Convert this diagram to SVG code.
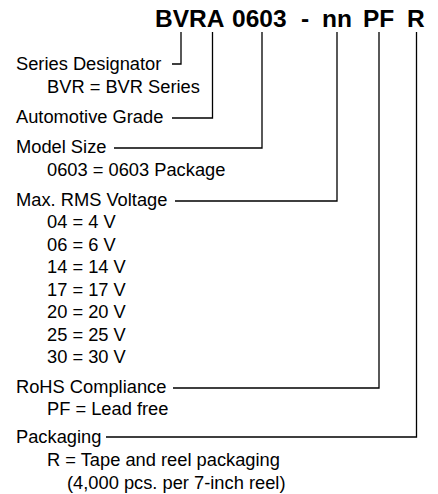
<svg xmlns="http://www.w3.org/2000/svg" width="438" height="494" viewBox="0 0 438 494">
<style>
text{font-family:"Liberation Sans",Arial,Helvetica,sans-serif;fill:#000}
.t{font-size:24.5px;font-weight:bold}
.b{font-size:18.3px}
.c{fill:none;stroke:#000;stroke-width:1.3}
</style>
<rect width="438" height="494" fill="#fff"/>
<g id="title">
<text class="t" x="155" y="27">BVRA</text>
<text class="t" x="232" y="27">0603</text>
<text class="t" x="301" y="27">-</text>
<text class="t" x="322" y="27">nn</text>
<text class="t" x="363" y="27">PF</text>
<text class="t" x="407" y="27">R</text>
</g>
<g id="series">
<text class="b" x="16" y="70">Series Designator</text>
<text class="b" x="47" y="93">BVR = BVR Series</text>
</g>
<g id="auto">
<text class="b" x="16" y="123">Automotive Grade</text>
</g>
<g id="model">
<text class="b" x="16" y="153">Model Size</text>
<text class="b" x="47" y="176">0603 = 0603 Package</text>
</g>
<g id="voltage">
<text class="b" x="16" y="206">Max. RMS Voltage</text>
<text class="b" x="47" y="228">04 = 4 V</text>
<text class="b" x="47" y="251">06 = 6 V</text>
<text class="b" x="47" y="273">14 = 14 V</text>
<text class="b" x="47" y="296">17 = 17 V</text>
<text class="b" x="47" y="318">20 = 20 V</text>
<text class="b" x="47" y="341">25 = 25 V</text>
<text class="b" x="47" y="363">30 = 30 V</text>
</g>
<g id="rohs">
<text class="b" x="16" y="393">RoHS Compliance</text>
<text class="b" x="47" y="415">PF = Lead free</text>
</g>
<g id="packaging">
<text class="b" x="16" y="443">Packaging</text>
<text class="b" x="47" y="466">R = Tape and reel packaging</text>
<text class="b" x="67" y="489">(4,000 pcs. per 7-inch reel)</text>
</g>
<g id="connectors" class="c">
<polyline points="181,32 181,64 172,64"/>
<polyline points="212.5,32 212.5,118 172,118"/>
<polyline points="262,32 262,148 114,148"/>
<polyline points="337,32 337,201 175,201"/>
<polyline points="379,32 379,388 173,388"/>
<polyline points="416.5,32 416.5,437 106,437"/>
</g>
</svg>
